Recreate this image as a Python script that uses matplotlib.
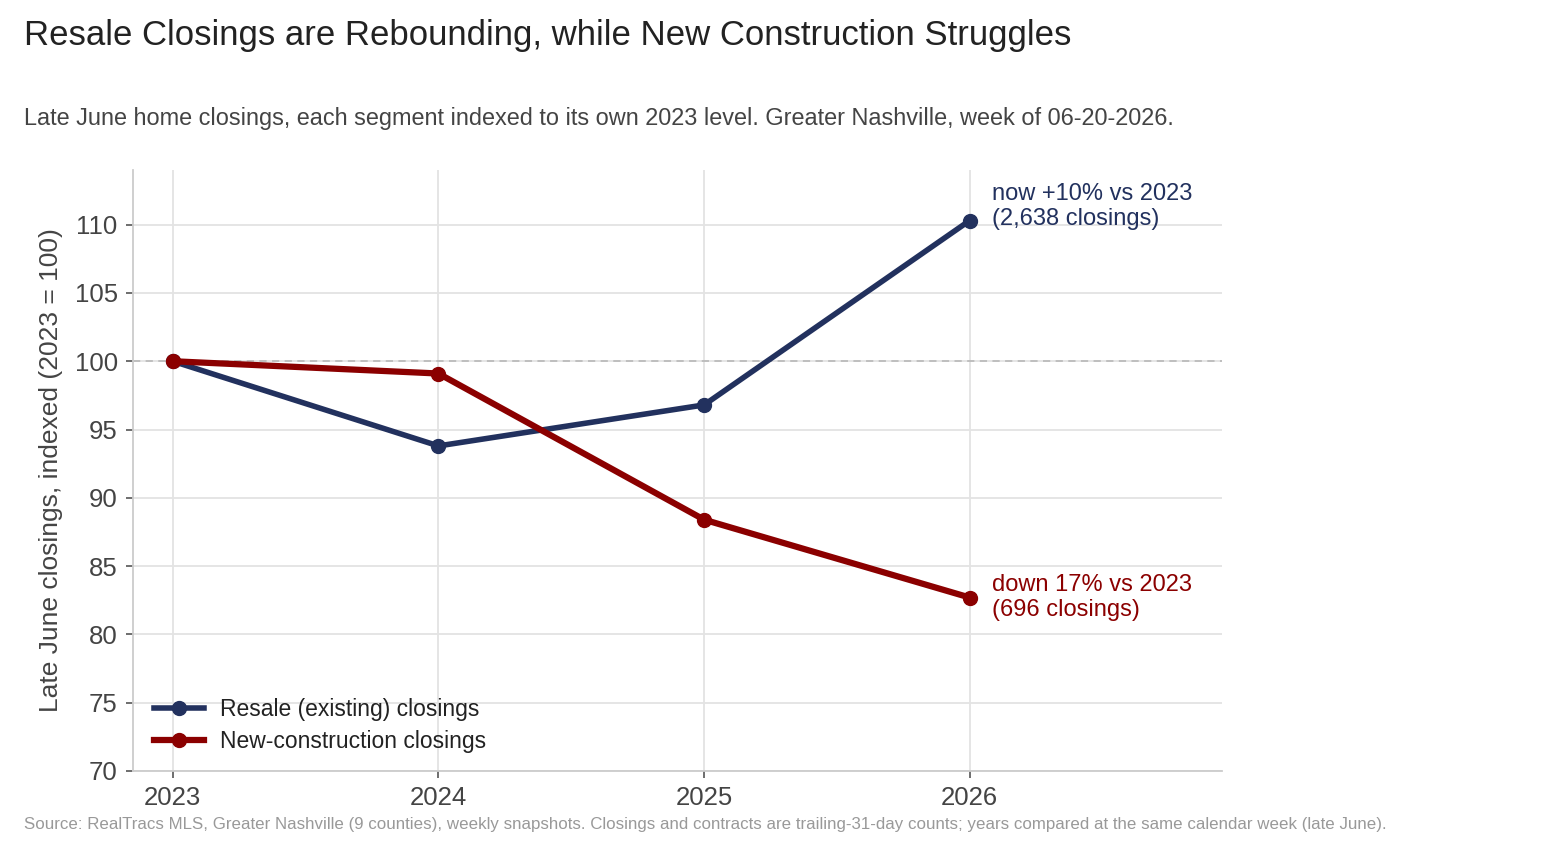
import matplotlib
matplotlib.use("Agg")
import matplotlib.pyplot as plt

years = [2023, 2024, 2025, 2026]
resale = [100.0, 93.8, 96.8, 110.3]
newcon = [100.0, 99.1, 88.4, 82.7]
yticks = [70, 75, 80, 85, 90, 95, 100, 105, 110]

title = "Resale Closings are Rebounding, while New Construction Struggles"
subtitle = ("Late June home closings, each segment indexed to its own 2023 level. "
            "Greater Nashville, week of 06-20-2026.")
source = ("Source: RealTracs MLS, Greater Nashville (9 counties), weekly snapshots. "
          "Closings and contracts are trailing-31-day counts; years compared at the same calendar week (late June).")
resale_note = "now +10% vs 2023\n(2,638 closings)"
newcon_note = "down 17% vs 2023\n(696 closings)"

NAVY = "#22315e"
RED = "#8b0000"

plt.rcParams["font.family"] = ["Liberation Sans", "DejaVu Sans"]

fig = plt.figure(figsize=(15.68, 8.48), dpi=100)
ax = fig.add_axes([133/1568, 1-771/848, (1222-133)/1568, (771-170)/848])

ax.axhline(100, color="#bbbbbb", lw=1.3, ls=(0, (4, 3)), zorder=1)
ax.plot(years, resale, color=NAVY, lw=4, marker="o", ms=10, label="Resale (existing) closings", zorder=3)
ax.plot(years, newcon, color=RED, lw=4.5, marker="o", ms=10, label="New-construction closings", zorder=3)

ax.set_xlim(2022.85, 2026.95)
ax.set_ylim(70, 114)
ax.set_xticks(years)
ax.set_xticklabels([str(y) for y in years])
ax.set_yticks(yticks)
ax.grid(True, color="#e3e3e3", lw=1.3, zorder=0)
ax.set_axisbelow(True)
for s in ["top", "right"]:
    ax.spines[s].set_visible(False)
for s in ["left", "bottom"]:
    ax.spines[s].set_color("#cccccc")
    ax.spines[s].set_linewidth(1.3)
ax.tick_params(axis="both", colors="#444444", labelsize=18.5, length=5, width=1.2, pad=6)
ax.tick_params(axis="both", color="#555555")
ax.set_ylabel("Late June closings, indexed (2023 = 100)", fontsize=19, color="#444444", labelpad=8)

ax.annotate(resale_note, (years[-1], resale[-1]), xytext=(16, 10), textcoords="offset points",
            color=NAVY, fontsize=17, va="center", ha="left", linespacing=1.15)
ax.annotate(newcon_note, (years[-1], newcon[-1]), xytext=(16, 0), textcoords="offset points",
            color=RED, fontsize=17, va="center", ha="left", linespacing=1.15)

leg = ax.legend(loc="lower left", frameon=False, fontsize=16.5, handlelength=2.2,
                bbox_to_anchor=(0.0, -0.004), labelspacing=0.4, handletextpad=0.7)
for t in leg.get_texts():
    t.set_color("#222222")

fig.text(24/1568, 1-35/848, title, fontsize=25, color="#222222", va="center", ha="left")
fig.text(24/1568, 1-118/848, subtitle, fontsize=16.9, color="#444444", va="center", ha="left")
fig.text(24/1568, 1-824/848, source, fontsize=12.15, color="#999999", va="center", ha="left")

fig.savefig("out.png", dpi=100)
